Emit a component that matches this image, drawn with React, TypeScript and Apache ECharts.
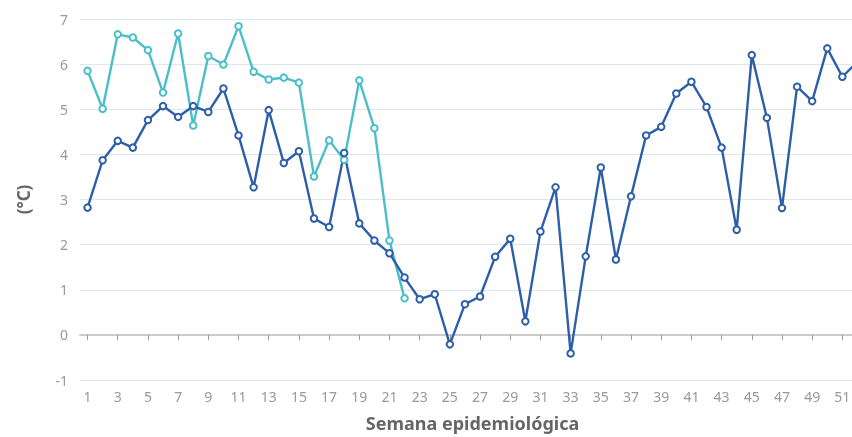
import React, { useEffect, useRef } from "react";
import * as echarts from "echarts";

const weeks: string[] = Array.from({ length: 52 }, (_, i) => String(i + 1));

const seriesCurrent: number[] = [
  2.82, 3.87, 4.30, 4.15, 4.76, 5.07, 4.83, 5.07, 4.94, 5.46,
  4.42, 3.27, 4.98, 3.81, 4.07, 2.58, 2.39, 4.03, 2.47, 2.09,
  1.81, 1.27, 0.79, 0.90, -0.21, 0.68, 0.85, 1.73, 2.13, 0.30,
  2.29, 3.27, -0.41, 1.74, 3.71, 1.67, 3.07, 4.42, 4.61, 5.35,
  5.61, 5.05, 4.15, 2.33, 6.20, 4.81, 2.81, 5.50, 5.18, 6.35,
  5.72, 6.05,
];

const seriesPrevious: (number | null)[] = [
  5.85, 5.01, 6.66, 6.59, 6.31, 5.37, 6.68, 4.64, 6.18, 5.99,
  6.84, 5.83, 5.66, 5.70, 5.59, 3.51, 4.31, 3.88, 5.64, 4.58,
  2.09, 0.81,
];

const yMin = -1;
const yMax = 7;

export default function App() {
  const ref = useRef<HTMLDivElement>(null);
  useEffect(() => {
    if (!ref.current) return;
    const chart = echarts.init(ref.current, undefined, { renderer: "svg" });
    const font = "'Noto Sans', sans-serif";
    chart.setOption({
      animation: false,
      grid: { left: 80, top: 19, width: 785, height: 361, outerBoundsMode: "none", containLabel: false },
      xAxis: [
        {
          type: "category",
          data: weeks,
          position: "bottom",
          axisLine: { show: false, onZero: false },
          axisTick: { show: false },
          axisLabel: {
            interval: 1,
            color: "#999",
            fontSize: 14,
            fontFamily: font,
            margin: 9,
          },
          name: "Semana epidemiológica",
          nameLocation: "middle",
          nameGap: 34,
          nameTextStyle: {
            fontSize: 18,
            fontWeight: "bold",
            color: "#666",
            fontFamily: font,
          },
        },
        {
          type: "category",
          data: weeks,
          position: "bottom",
          axisLine: { show: true, onZero: true, lineStyle: { color: "#ccc", width: 2 } },
          axisTick: {
            show: true,
            interval: 1,
            alignWithLabel: true,
            length: 5,
            lineStyle: { color: "#999" },
          },
          axisLabel: { show: false },
        },
      ],
      yAxis: {
        type: "value",
        min: yMin,
        max: yMax,
        interval: 1,
        axisLine: { show: false },
        axisTick: { show: false },
        splitLine: { lineStyle: { color: "#E0E6F1" } },
        axisLabel: { color: "#999", fontSize: 14, fontFamily: font, margin: 12 },
        name: "(°C)",
        nameLocation: "middle",
        nameGap: 48,
        nameTextStyle: {
          fontSize: 17,
          fontWeight: "bold",
          color: "#666",
          fontFamily: font,
        },
      },
      series: [
        {
          type: "line",
          name: "previous",
          data: seriesPrevious,
          xAxisIndex: 0,
          symbol: "emptyCircle",
          symbolSize: 6.5,
          lineStyle: { color: "#4bbfc8", width: 2.4 },
          itemStyle: { color: "#4bbfc8", borderWidth: 1.6 },
        },
        {
          type: "line",
          name: "current",
          data: seriesCurrent,
          xAxisIndex: 0,
          symbol: "emptyCircle",
          symbolSize: 6.5,
          lineStyle: { color: "#2d5ea9", width: 2.4 },
          itemStyle: { color: "#2d5ea9", borderWidth: 1.6 },
        },
      ],
    });
    return () => chart.dispose();
  }, []);
  return (
    <div
      ref={ref}
      style={{ position: "fixed", left: 0, top: 0, width: 880, height: 437 }}
    />
  );
}
